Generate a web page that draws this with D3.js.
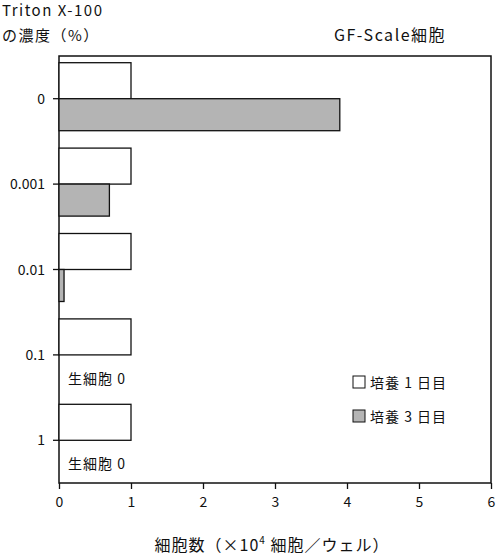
<!DOCTYPE html>
<html><head><meta charset="utf-8">
<script src="https://cdn.jsdelivr.net/npm/d3@7"></script>
<style>body{margin:0;background:#fff}text{font-family:"Noto Sans CJK JP","Noto Sans",sans-serif;fill:#111}</style>
</head><body><svg id="c" width="500" height="555"></svg>
<script>
const categories = ["0","0.001","0.01","0.1","1"];
const day1 = [1,1,1,1,1];
const day3 = [3.9,0.7,0.07,0,0];
const xTicks = [0,1,2,3,4,5,6];
const seriesNames = ["培養 1 日目","培養 3 日目"];
const colors = ["#ffffff","#b4b4b4"];

const svg = d3.select("#c");
const x = d3.scaleLinear().domain([0,6]).range([59,491]);
const y = d3.scaleBand().domain(categories).range([56,483]);
const cy = c => y(c) + y.bandwidth()/2;

svg.append("rect").attr("x",59).attr("y",56).attr("width",432).attr("height",427)
  .attr("fill","none").attr("stroke","#111").attr("stroke-width",1.5);

svg.selectAll(".b1").data(categories).join("rect")
  .attr("x",x(0)).attr("y",c=>cy(c)-36).attr("height",36)
  .attr("width",(c,i)=>x(day1[i])-x(0)).attr("fill",colors[0]).attr("stroke","#111").attr("stroke-width",1.3);
svg.selectAll(".b3").data(categories.filter((c,i)=>day3[i]>0)).join("rect")
  .attr("x",x(0)).attr("y",c=>cy(c)).attr("height",32)
  .attr("width",c=>x(day3[categories.indexOf(c)])-x(0)).attr("fill",colors[1]).attr("stroke","#111").attr("stroke-width",1.3);

categories.forEach(c=>{
  svg.append("line").attr("x1",53).attr("x2",59).attr("y1",cy(c)).attr("y2",cy(c)).attr("stroke","#111").attr("stroke-width",1.3);
  svg.append("text").attr("x",45).attr("y",cy(c)+5).attr("text-anchor","end").attr("font-size",14).text(c);
});
categories.forEach((c,i)=>{ if(day3[i]===0) svg.append("text").attr("x",68).attr("y",cy(c)+29).attr("font-size",14).attr("letter-spacing",1).text("生細胞 0"); });

const xa = svg.append("g").attr("transform","translate(0,483)").call(d3.axisBottom(x).tickValues(xTicks).tickSize(6).tickFormat(d3.format("d")));
xa.select(".domain").remove();
xa.selectAll("line").attr("stroke","#111").attr("stroke-width",1.3);
xa.selectAll("text").attr("font-size",14).attr("dy","1.1em").style("fill","#111");

svg.append("text").attr("x",2).attr("y",16).attr("font-size",15).attr("letter-spacing",1.5).text("Triton X-100");
svg.append("text").attr("x",2).attr("y",41).attr("font-size",15).attr("letter-spacing",1.5).text("の濃度（%）");
svg.append("text").attr("x",334).attr("y",41).attr("font-size",16).attr("letter-spacing",1.5).text("GF-Scale細胞");
const t = svg.append("text").attr("x",272).attr("y",551).attr("text-anchor","middle").attr("font-size",16).attr("letter-spacing",1);
t.append("tspan").text("細胞数（×10");
t.append("tspan").attr("dy",-7).attr("font-size",10).text("4");
t.append("tspan").attr("dy",7).text(" 細胞／ウェル）");

seriesNames.forEach((n,i)=>{
  const ly = 382 + i*34;
  svg.append("rect").attr("x",353).attr("y",ly-6).attr("width",12).attr("height",12).attr("fill",colors[i]).attr("stroke","#111");
  svg.append("text").attr("x",370).attr("y",ly+6).attr("font-size",14).attr("letter-spacing",1).text(n);
});
</script></body></html>
